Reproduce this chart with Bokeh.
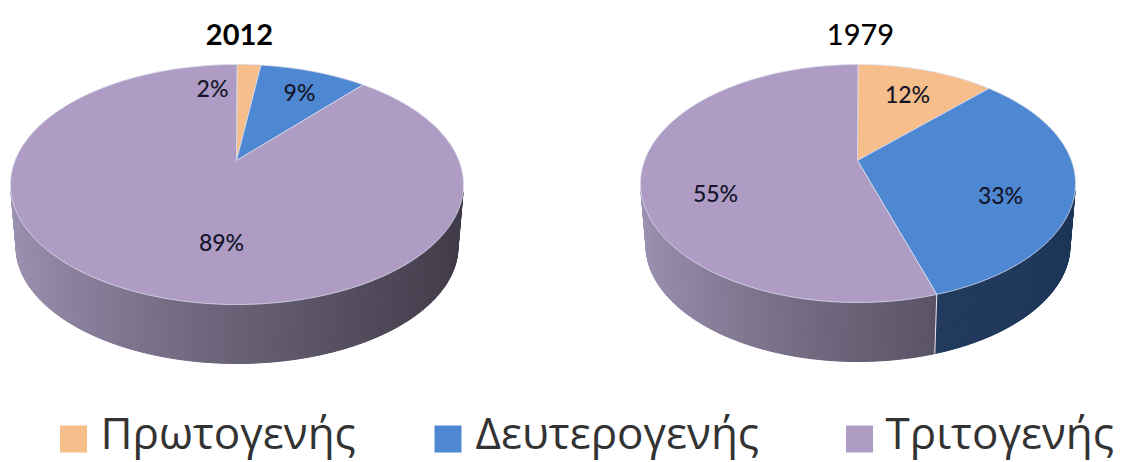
import numpy as np
from bokeh.plotting import figure
from bokeh.models import Range1d
from bokeh.core.properties import value
from bokeh.embed import file_html
from bokeh.resources import INLINE

# ---- data ----
categories = ["Πρωτογενής", "Δευτερογενής", "Τριτογενής"]
years = ["2012", "1979"]
shares_2012 = [2, 9, 89]
shares_1979 = [12, 33, 55]
labels_2012 = ["2%", "9%", "89%"]
labels_1979 = ["12%", "33%", "55%"]

# ---- style / layout ----
colors = ["#F5BE8A", "#4F88D2", "#AE9CC4"]
side_left = [(0xC0, 0x95, 0x6A), (0x2A, 0x48, 0x70), (0x9E, 0x92, 0xB2)]
side_right = [(0x60, 0x48, 0x38), (0x1E, 0x36, 0x58), (0x42, 0x3C, 0x4A)]
PERSP = 0.845
pies = [
    dict(cx=236.5, cy=184, rx=226.5, ry=120, ax=236, ay=160, brx=221, bry=117, bcy=246,
         title_x=239, title_font="Lato", title_style="bold", shares=shares_2012, labels=labels_2012,
         pos=[(212, 87), (299, 91), (221, 241)]),
    dict(cx=857.5, cy=183, rx=217.5, ry=119, ax=857, ay=160, brx=212, bry=116, bcy=245,
         title_x=860, title_font="Lato Medium", title_style="normal", shares=shares_1979, labels=labels_1979,
         pos=[(907, 93), (1000, 194), (715, 192)]),
]

W, H = 1125, 462
p = figure(width=W, height=H, x_range=Range1d(0, W), y_range=Range1d(H, 0),
           toolbar_location=None, output_backend="svg", min_border=0)
p.axis.visible = False
p.grid.visible = False
p.outline_line_color = None
p.background_fill_color = "white"
p.border_fill_color = "white"


def warp(theta):
    """true pie angle -> parametric ellipse angle under the chart's perspective"""
    theta = np.asarray(theta, dtype=float)
    return 2 * np.arctan2(PERSP * np.sin(theta / 2), np.cos(theta / 2))


for pie, year in zip(pies, years):
    fr = np.cumsum([0] + pie["shares"]) / sum(pie["shares"]) * 2 * np.pi
    edges = warp(fr)
    edges[-1] = 2 * np.pi
    cx, cy, rx, ry = pie["cx"], pie["cy"], pie["rx"], pie["ry"]
    bcx, bcy, brx, bry = cx, pie["bcy"], pie["brx"], pie["bry"]

    # side wall: thin strips along the front half
    ts = np.linspace(np.pi / 2 + 0.06, 3 * np.pi / 2 - 0.06, 221)
    xs, ys, cols = [], [], []
    for a, b in zip(ts[:-1], ts[1:]):
        m = (a + b) / 2
        i = int(np.searchsorted(edges, m, side="right") - 1)
        i = min(i, 2)
        f = ((np.sin(m) + 1) / 2) ** 0.8
        c = [int(l + (r - l) * f) for l, r in zip(side_left[i], side_right[i])]
        xs.append([cx + rx * np.sin(a), cx + rx * np.sin(b), bcx + brx * np.sin(b), bcx + brx * np.sin(a)])
        ys.append([cy - ry * np.cos(a), cy - ry * np.cos(b), bcy - bry * np.cos(b), bcy - bry * np.cos(a)])
        cols.append("#%02x%02x%02x" % tuple(c))
    p.patches(xs, ys, fill_color=cols, line_color=cols, line_width=1)

    # side joins between slices on the front wall
    for e in edges[1:-1]:
        if np.pi / 2 < e < 3 * np.pi / 2:
            p.line([cx + rx * np.sin(e), bcx + brx * np.sin(e)],
                   [cy - ry * np.cos(e), bcy - bry * np.cos(e)],
                   line_color="#E8E8F0", line_width=1)

    # top surface
    for i in range(3):
        t = np.linspace(edges[i], edges[i + 1], 240)
        x = np.r_[pie["ax"], cx + rx * np.sin(t)]
        y = np.r_[pie["ay"], cy - ry * np.cos(t)]
        p.patch(x, y, fill_color=colors[i], line_color="#D9DCEC", line_width=0.8)

    p.text([pie["title_x"]], [34], text=[year], text_font=value(pie["title_font"]),
           text_font_style=pie["title_style"], text_font_size="29px",
           text_color="#000000", text_align="center", text_baseline="middle")
    for (lx, ly), lab in zip(pie["pos"], pie["labels"]):
        p.text([lx], [ly], text=[lab], text_font=value("Lato Medium"), text_font_size="23px",
               text_color="#15152A", text_align="center", text_baseline="middle")

# legend
legend_sq = [73, 447.5, 859]
legend_tx = [100, 475, 885]
p.rect(legend_sq, [438.5] * 3, width=27, height=27, fill_color=colors, line_color=None)
p.text(legend_tx, [431] * 3, text=categories, text_font=value("Open Sans"),
       text_font_size="44px", text_color="#333333", text_align="left", text_baseline="middle")

open("out.html", "w").write(file_html(p, INLINE))
